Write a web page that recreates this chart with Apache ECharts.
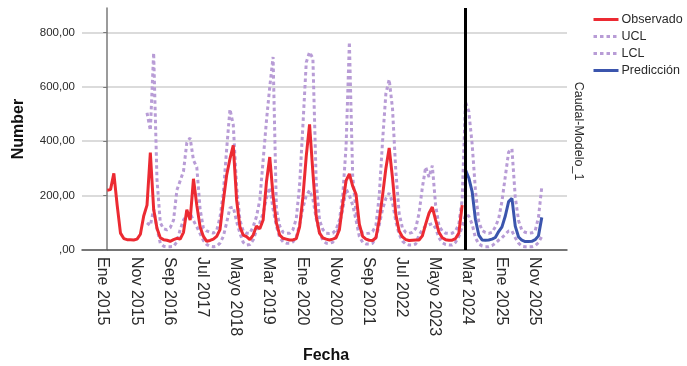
<!DOCTYPE html>
<html>
<head>
<meta charset="utf-8">
<script src="https://cdn.jsdelivr.net/npm/echarts@6/dist/echarts.min.js"></script>
<style>
  html, body { margin: 0; padding: 0; background: #ffffff; }
  #chart { width: 687px; height: 366px; }
</style>
</head>
<body>
<div id="chart"></div>
<script>
// Month index 0 = Ene 2015 (monthly series)
const tickMonths = [0, 10, 20, 30, 40, 50, 60, 70, 80, 90, 100, 110, 120, 130];
const tickLabels = ['Ene 2015', 'Nov 2015', 'Sep 2016', 'Jul 2017', 'Mayo 2018', 'Mar 2019', 'Ene 2020',
                    'Nov 2020', 'Sep 2021', 'Jul 2022', 'Mayo 2023', 'Mar 2024', 'Ene 2025', 'Nov 2025'];
// labels sit a little ahead of their month
const labelLead = 1.3;

// Observed flow, Ene 2015 – Dic 2023
const observado = [
  220, 222, 282, 165, 62, 42, 38, 38, 37, 40, 58, 125,
  165, 358, 150, 80, 45, 38, 36, 32, 38, 43, 40, 65,
  148, 110, 262, 165, 85, 50, 32, 35, 40, 50, 75, 180,
  275, 335, 385, 185, 85, 55, 49, 38, 55, 88, 78, 110,
  250, 342, 200, 100, 55, 43, 40, 37, 37, 42, 85, 195,
  345, 462, 285, 125, 62, 45, 40, 37, 40, 45, 75, 170,
  255, 280, 235, 205, 95, 50, 40, 36, 35, 45, 110, 200,
  300, 375, 265, 130, 70, 48, 38, 35, 36, 37, 37, 52,
  95, 135, 158, 110, 65, 45, 38, 36, 36, 42, 62, 165
];

// Forecast, Ene 2024 – Dic 2025
const forecastStart = 108;
const prediccion = [
  295, 265, 215, 112, 55, 37, 36, 37, 40, 46, 68, 85,
  125, 178, 190, 88, 48, 36, 31, 31, 32, 38, 52, 120
];

// Confidence limits, Ene 2016 – Dic 2025
const limitsStart = 12;
const ucl = [
  505, 440, 725, 260, 100, 78, 74, 82, 110, 220, 255, 290,
  395, 412, 330, 305, 150, 80, 70, 65, 62, 72, 120, 210,
  370, 518, 460, 233, 110, 70, 62, 61, 86, 123, 184, 330,
  475, 600, 710, 150, 88, 65, 61, 62, 75, 115, 240, 460,
  690, 728, 705, 250, 110, 75, 62, 61, 62, 75, 110, 200,
  380, 765, 270, 140, 80, 62, 61, 62, 68, 90, 200, 400,
  575, 627, 520, 290, 135, 80, 65, 61, 65, 80, 135, 230,
  305, 268, 310, 165, 90, 70, 62, 61, 62, 70, 95, 185,
  545, 510, 390, 220, 105, 72, 64, 61, 65, 85, 115, 180,
  270, 360, 372, 195, 108, 72, 65, 62, 63, 70, 120, 232
];
const lcl = [
  100, 90, 150, 80, 25, 14, 12, 12, 13, 30, 75, 110,
  130, 135, 108, 85, 60, 35, 20, 14, 12, 14, 25, 50,
  100, 155, 158, 105, 62, 28, 18, 20, 37, 72, 100, 135,
  190, 230, 150, 88, 45, 30, 25, 25, 30, 48, 95, 155,
  200, 220, 188, 115, 65, 35, 25, 25, 28, 50, 95, 150,
  225, 200, 165, 110, 50, 28, 22, 22, 25, 45, 92, 150,
  190, 209, 175, 105, 58, 33, 22, 18, 18, 22, 55, 75,
  88, 93, 97, 80, 45, 27, 20, 18, 18, 28, 50, 85,
  130, 125, 95, 45, 22, 15, 12, 12, 16, 25, 36, 45,
  58, 70, 70, 45, 25, 14, 12, 12, 12, 16, 27, 50
];

const yTicks = [0, 200, 400, 600, 800];

const FONT = "'Liberation Sans', Arial, sans-serif";
const RED = '#ec2a32';
const BLUE = '#3b55ad';
const LAVENDER = '#b89cd6';

function fmtNumber(v) {
  // 0 -> ",00", 200 -> "200,00"
  return (v === 0 ? '' : String(v)) + ',00';
}

const labelPositions = tickMonths.map(m => m - labelLead);

const chart = echarts.init(document.getElementById('chart'), null, { renderer: 'canvas' });

chart.setOption({
  animation: false,
  backgroundColor: '#ffffff',
  grid: { left: 82, right: 120, top: 8, bottom: 116 },
  xAxis: {
    type: 'value',
    min: -7.6,
    max: 138.6,
    axisLine: { show: true, onZero: false, lineStyle: { color: '#555555', width: 1.5 } },
    axisTick: { show: false },
    splitLine: { show: false },
    axisLabel: {
      customValues: labelPositions,
      formatter: function (v) {
        const k = tickMonths.indexOf(Math.round(v + labelLead));
        return k >= 0 ? tickLabels[k] : '';
      },
      rotate: -90,
      margin: 7,
      fontSize: 16,
      fontFamily: FONT,
      color: '#2a2a2a'
    }
  },
  yAxis: {
    type: 'value',
    min: 0,
    max: 890,
    axisLine: { show: true, lineStyle: { color: '#7a7a7a', width: 1.5 } },
    axisTick: { show: true, length: 4, customValues: yTicks, lineStyle: { color: '#7a7a7a', width: 1 } },
    axisLabel: {
      customValues: yTicks,
      formatter: fmtNumber,
      margin: 7,
      fontSize: 11.5,
      fontFamily: FONT,
      color: '#2a2a2a'
    },
    splitLine: { show: true, lineStyle: { color: '#cfcfcf', width: 1.5 } }
  },
  legend: {
    orient: 'vertical',
    left: 592,
    top: 13,
    padding: 0,
    itemWidth: 25,
    itemHeight: 12,
    itemGap: 4,
    selectedMode: false,
    itemStyle: { opacity: 0 },
    lineStyle: { width: 3 },
    textStyle: { fontSize: 12.5, fontFamily: FONT, color: '#2a2a2a', padding: [0, 0, 0, -2] },
    data: ['Observado', 'UCL', 'LCL', 'Predicción']
  },
  series: [
    {
      name: 'UCL',
      type: 'line',
      symbol: 'none',
      z: 2,
      data: ucl.map((v, k) => [limitsStart + k, v]),
      lineStyle: { color: LAVENDER, width: 3, type: [3.5, 3], cap: 'butt' },
      itemStyle: { color: LAVENDER }
    },
    {
      name: 'LCL',
      type: 'line',
      symbol: 'none',
      z: 2,
      data: lcl.map((v, k) => [limitsStart + k, v]),
      lineStyle: { color: LAVENDER, width: 3, type: [3.5, 3], cap: 'butt' },
      itemStyle: { color: LAVENDER }
    },
    {
      name: 'Observado',
      type: 'line',
      symbol: 'none',
      z: 3,
      data: observado.map((v, i) => [i, v]),
      lineStyle: { color: RED, width: 3 },
      itemStyle: { color: RED }
    },
    {
      name: 'Predicción',
      type: 'line',
      symbol: 'none',
      z: 3,
      data: prediccion.map((v, k) => [forecastStart + k, v]),
      lineStyle: { color: BLUE, width: 3 },
      itemStyle: { color: BLUE },
      markLine: {
        silent: true,
        symbol: ['none', 'none'],
        label: { show: false },
        lineStyle: { color: '#000000', width: 3, type: 'solid' },
        data: [{ xAxis: forecastStart }]
      }
    }
  ],
  graphic: [
    {
      type: 'text', x: 19, y: 129, rotation: Math.PI / 2,
      style: { text: 'Number', font: "bold 16px 'Liberation Sans', Arial, sans-serif", fill: '#111', align: 'center', verticalAlign: 'middle' }
    },
    {
      type: 'text', x: 326, y: 356,
      style: { text: 'Fecha', font: "bold 16px 'Liberation Sans', Arial, sans-serif", fill: '#111', align: 'center', verticalAlign: 'middle' }
    },
    {
      type: 'text', x: 578, y: 131, rotation: -Math.PI / 2,
      style: { text: 'Caudal-Modelo_1', font: "12.5px 'Liberation Sans', Arial, sans-serif", fill: '#2a2a2a', align: 'center', verticalAlign: 'middle' }
    }
  ]
});
</script>
</body>
</html>
